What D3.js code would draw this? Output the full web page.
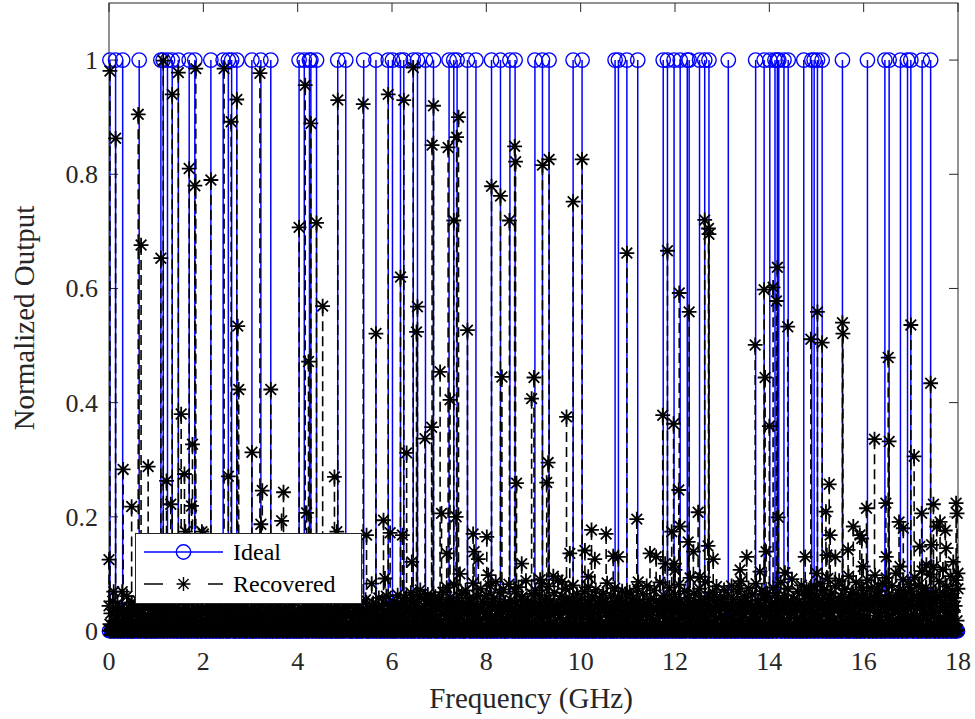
<!DOCTYPE html>
<html><head><meta charset="utf-8">
<script src="https://cdn.jsdelivr.net/npm/d3@7/dist/d3.min.js"></script>
<style>body{margin:0;background:#fff}svg{display:block}</style>
</head><body>
<svg id="chart" width="975" height="719"></svg>
<script>
// ---------------- DATA ----------------
const xTickValues = [0, 2, 4, 6, 8, 10, 12, 14, 16, 18];
const yTickValues = [0, 0.2, 0.4, 0.6, 0.8, 1];
const seriesNames = ["Ideal", "Recovered"];

// frequency grid of the spectrum (GHz)
const gridStart = 0, gridStep = 0.02, gridCount = 901;

// Ideal: frequencies (GHz) where the ideal output is 1 (0 elsewhere on the grid)
const idealFreqs = [
  0.02,0.14,0.29,0.64,1.10,1.15,1.24,1.34,1.47,1.70,1.82,2.16,2.42,2.53,2.60,2.71,3.03,3.22,3.43,
  4.03,4.14,4.25,4.28,4.40,4.85,5.02,5.40,5.66,5.92,6.01,
  6.18,6.25,6.45,6.54,6.71,6.88,7.21,7.31,7.38,7.60,7.78,8.11,8.30,8.50,8.61,9.03,9.19,9.33,
  9.84,10.03,10.73,10.80,10.98,11.21,11.75,11.84,11.98,
  12.11,12.26,12.30,12.52,12.63,12.72,13.13,13.71,13.89,14.01,14.12,14.17,14.20,14.31,14.40,
  14.73,14.90,14.95,15.02,15.12,15.55,16.08,16.45,16.54,16.78,16.93,17.00,17.24,17.42
];

// Recovered: clearly visible components [frequency GHz, normalized output]
const recoveredPeaks = [
  [0.00,0.125],[0.02,0.981],[0.14,0.863],[0.30,0.283],[0.48,0.218],[0.62,0.905],[0.68,0.676],[0.83,0.288],
  [1.10,0.653],[1.15,0.999],[1.22,0.263],[1.31,0.222],[1.34,0.940],[1.47,0.978],[1.53,0.380],[1.60,0.275],
  [1.62,0.174],[1.70,0.810],[1.75,0.219],[1.77,0.327],[1.82,0.780],[1.84,0.985],[1.97,0.174],[2.00,0.170],
  [2.16,0.790],[2.44,0.985],[2.53,0.271],[2.59,0.892],[2.71,0.931],[2.73,0.534],[2.75,0.423],[3.03,0.313],
  [3.20,0.977],[3.22,0.187],[3.25,0.246],[3.43,0.423],[3.66,0.193],[3.70,0.243],[4.03,0.707],[4.16,0.956],
  [4.19,0.207],[4.23,0.472],[4.28,0.889],[4.40,0.715],[4.53,0.569],[4.78,0.270],[4.83,0.174],[4.85,0.930],
  [5.39,0.923],[5.46,0.168],[5.57,0.083],[5.66,0.521],[5.82,0.194],[5.85,0.092],[5.92,0.940],[5.96,0.172],
  [6.18,0.620],[6.22,0.168],[6.25,0.930],[6.31,0.312],[6.42,0.121],[6.45,0.987],[6.52,0.524],[6.54,0.568],
  [6.70,0.337],[6.84,0.357],[6.85,0.851],[6.88,0.920],[7.02,0.454],[7.05,0.206],[7.16,0.136],[7.19,0.847],
  [7.23,0.405],[7.31,0.719],[7.36,0.200],[7.37,0.865],[7.41,0.900],[7.44,0.100],[7.60,0.527],[7.72,0.170],
  [7.74,0.139],[7.83,0.126],[8.01,0.165],[8.04,0.098],[8.11,0.779],[8.30,0.762],[8.33,0.445],[8.49,0.719],
  [8.60,0.849],[8.62,0.822],[8.64,0.259],[8.75,0.118],[8.96,0.407],[9.01,0.444],[9.14,0.090],[9.19,0.816],
  [9.28,0.260],[9.31,0.295],[9.33,0.826],[9.42,0.096],[9.60,0.086],[9.70,0.375],[9.77,0.136],[9.84,0.752],
  [10.03,0.826],[10.09,0.141],[10.16,0.095],[10.23,0.177],[10.30,0.126],[10.54,0.170],[10.69,0.131],
  [10.80,0.130],[10.98,0.662],[11.19,0.196],[11.22,0.086],[11.47,0.136],[11.60,0.130],[11.74,0.378],
  [11.79,0.118],[11.84,0.666],[11.93,0.174],[11.97,0.363],[11.99,0.118],[12.00,0.107],[12.08,0.247],
  [12.09,0.592],[12.11,0.183],[12.28,0.156],[12.30,0.559],[12.39,0.139],[12.49,0.208],[12.53,0.095],
  [12.63,0.720],[12.70,0.149],[12.71,0.705],[12.72,0.695],[12.81,0.126],[13.34,0.080],[13.38,0.107],
  [13.52,0.130],[13.70,0.501],[13.80,0.104],[13.89,0.598],[13.91,0.444],[13.93,0.139],[14.00,0.359],
  [14.08,0.602],[14.15,0.578],[14.17,0.637],[14.19,0.199],[14.33,0.102],[14.39,0.533],[14.76,0.130],
  [14.79,0.073],[14.88,0.511],[15.00,0.101],[15.02,0.559],[15.12,0.505],[15.20,0.209],[15.22,0.133],
  [15.27,0.257],[15.29,0.168],[15.40,0.130],[15.55,0.540],[15.56,0.521],[15.67,0.142],[15.78,0.183],
  [15.92,0.168],[15.96,0.162],[15.99,0.113],[16.06,0.215],[16.23,0.336],[16.31,0.078],[16.47,0.224],
  [16.48,0.130],[16.52,0.479],[16.54,0.332],[16.75,0.191],[16.77,0.113],[16.84,0.180],[17.00,0.536],
  [17.07,0.306],[17.19,0.148],[17.23,0.206],[17.33,0.116],[17.42,0.434],[17.44,0.151],[17.48,0.222],
  [17.55,0.183],[17.62,0.191],[17.73,0.176],[17.75,0.145],[17.90,0.121],[17.96,0.224],[17.98,0.206],[18.00,0.101]
];

// Recovered: residual level on each grid frequency, in thousandths (one row of 50 per GHz)
const recoveredFloor = [
 44,12,31,3,52,69,18,27,6,48,35,18,9,41,69,22,35,4,14,61,28,41,7,38,50,16,29,2,46,33,11,52,24,8,19,49,36,5,45,13,19,27,43,1,38,22,15,47,10,30,
 28,7,47,19,35,2,52,14,21,39,57,9,26,33,44,5,32,17,49,11,18,40,3,41,55,24,30,8,37,16,46,1,23,34,51,13,27,6,48,20,39,10,25,36,4,42,15,29,12,33,
 33,6,19,41,45,12,28,2,38,22,15,35,42,9,26,17,35,3,48,24,21,8,31,37,44,14,17,1,36,27,27,11,40,5,22,30,33,13,46,18,19,7,38,25,29,10,43,4,24,16,
 37,9,22,30,41,3,18,26,34,12,46,21,25,7,31,15,39,4,16,28,43,11,28,20,35,2,21,38,47,14,30,6,24,33,19,10,38,23,42,5,33,17,27,9,45,13,20,36,8,29,
 29,11,41,5,23,34,36,14,48,2,19,27,34,8,27,39,44,16,31,6,22,35,39,12,26,1,47,29,18,9,35,21,42,4,25,32,38,15,30,7,49,18,21,37,37,10,28,3,43,24,
 34,8,26,40,45,13,31,22,52,3,22,35,40,11,29,18,47,6,36,27,24,9,55,30,33,15,41,2,27,38,49,12,38,21,30,7,58,19,25,44,43,10,35,16,61,4,32,26,46,14,
 39,10,51,24,28,47,63,5,35,19,47,30,24,12,58,41,41,7,33,53,67,15,29,38,52,20,44,3,37,61,72,14,31,25,56,9,40,48,64,17,27,33,49,6,36,57,60,21,43,11,
 55,13,34,46,68,8,42,27,76,19,31,50,59,4,47,36,81,22,38,14,53,44,29,9,66,31,45,18,71,39,36,6,58,49,49,16,84,28,33,11,61,43,40,21,74,3,52,35,37,24,
 62,15,45,30,79,6,38,52,57,20,86,11,43,35,67,25,35,8,73,47,50,18,41,29,82,10,54,39,39,14,69,33,47,5,77,24,33,56,60,12,44,37,88,19,51,28,36,7,65,42,
 48,17,71,31,37,9,63,45,83,22,42,12,56,38,34,26,78,7,52,41,40,15,67,30,45,11,89,35,38,23,61,4,49,46,74,16,36,29,58,10,43,53,80,20,47,33,65,8,39,27,
 54,14,41,36,69,5,36,48,77,21,48,30,60,9,33,44,72,17,45,26,57,11,39,50,66,6,50,32,84,19,37,41,62,13,44,28,75,3,35,53,58,22,47,16,70,34,42,10,63,25,
 46,12,68,29,38,51,59,7,43,35,74,18,51,26,35,9,65,40,48,15,79,31,40,6,56,45,34,20,71,13,53,37,44,28,85,4,39,48,62,17,49,33,36,11,76,42,55,23,42,14,
 64,18,47,35,81,8,52,41,39,23,70,12,45,30,58,47,93,16,41,37,66,6,50,28,37,19,74,44,55,11,43,31,86,24,48,9,61,39,40,15,68,33,53,20,78,5,44,36,59,26,
 51,13,72,40,43,21,63,7,38,49,79,27,56,15,46,34,69,10,35,43,87,22,52,31,60,6,41,47,75,18,48,29,64,12,37,44,83,25,54,9,45,38,70,16,57,33,39,4,66,28,
 58,20,44,37,76,11,50,42,67,25,40,8,85,36,53,18,62,47,47,13,74,29,38,51,91,6,56,33,45,22,69,15,51,40,80,26,43,9,63,34,49,19,72,44,58,12,41,31,78,23,
 62,24,49,38,83,14,55,44,71,8,44,30,92,20,58,49,66,17,50,35,79,11,47,41,88,26,60,5,53,37,74,19,46,44,96,13,57,32,68,22,51,39,85,7,62,46,48,28,77,18,
 65,21,52,43,89,16,58,36,75,10,47,50,98,27,61,33,70,19,54,46,84,8,50,38,93,24,63,41,56,15,79,31,49,47,101,12,60,35,72,23,55,42,90,17,66,29,51,39,82,14,
 70,26,57,45,94,19,62,40,80,13,53,48,105,30,66,37,76,22,59,51,99,9,55,43,112,28,68,34,61,17,87,36,54,49,108,15,64,41,78,25,60,46,96,20,71,33,58,44,89,18,
 74
];

// Recovered: residual level halfway between grid frequencies (0.01 + 0.02 i GHz), in thousandths
const recoveredFloorMid = [
 1,0,2,1,3,0,1,2,0,1,3,1,0,2,1,0,3,1,2,0,1,2,0,3,1,0,2,1,1,3,0,2,1,0,1,2,3,0,1,2,0,1,3,1,0,2,1,0,2,1,
 0,2,1,3,0,1,2,0,1,3,1,0,2,1,2,0,1,3,0,1,2,1,0,2,3,1,0,1,2,0,3,1,2,0,1,1,0,2,3,1,0,2,1,0,1,3,2,0,1,2,
 2,1,0,1,3,2,0,1,2,0,1,3,1,0,2,1,3,0,2,1,0,1,2,3,0,1,2,0,1,3,1,2,0,1,0,3,2,1,0,2,1,3,0,1,2,0,1,2,3,0,
 1,3,0,2,1,0,2,1,3,0,1,2,0,3,1,2,0,1,1,3,0,2,1,0,2,1,3,0,1,2,0,1,3,2,0,1,2,1,0,3,1,0,2,1,3,0,1,2,0,1,
 3,0,1,2,0,1,3,2,0,1,2,0,1,3,1,0,2,1,3,0,2,1,0,1,3,2,0,1,2,1,0,3,1,2,0,1,0,2,3,1,0,1,2,0,3,1,2,0,1,2,
 0,1,3,1,2,0,1,0,2,3,1,2,0,1,3,0,2,1,0,2,1,3,1,0,2,0,1,3,2,1,0,2,1,0,3,1,2,1,0,2,3,0,1,2,1,0,3,2,0,1,
 2,0,1,3,0,2,1,1,3,0,2,1,0,3,2,1,0,1,2,3,0,1,2,0,1,3,2,0,1,0,2,3,1,0,1,2,1,3,0,2,1,0,2,1,3,0,1,2,0,3,
 1,2,3,0,1,0,2,1,3,2,0,1,1,3,0,2,1,0,3,1,2,0,1,2,3,0,1,0,2,1,3,1,0,2,1,3,0,2,1,0,2,3,1,0,1,2,0,3,1,2,
 0,3,1,2,0,1,3,0,2,1,1,0,3,2,1,0,2,1,3,0,1,2,0,3,1,2,1,0,2,3,0,1,2,1,0,3,1,2,0,1,3,0,2,1,2,0,1,3,0,1,
 2,1,0,3,1,2,0,1,3,0,2,1,2,0,1,3,1,0,2,1,3,2,0,1,0,2,3,1,2,0,1,3,0,1,2,1,0,3,2,1,0,1,2,3,0,2,1,0,1,3,
 1,0,2,1,3,0,2,1,0,2,3,1,0,1,2,0,3,1,2,1,0,2,3,0,1,2,0,1,3,2,1,0,2,1,0,3,1,2,0,1,2,3,0,1,2,0,1,3,1,0,
 3,1,0,2,1,3,0,2,1,0,1,2,3,0,2,1,0,1,3,2,0,1,2,0,3,1,2,1,0,3,1,0,2,1,3,0,2,1,1,0,3,2,0,1,2,1,3,0,2,1,
 0,2,3,1,0,1,2,0,3,1,2,0,1,3,1,0,2,3,1,0,2,1,0,3,2,1,0,2,1,3,0,1,2,0,3,1,2,0,1,3,2,0,1,2,0,3,1,0,2,1,
 2,1,0,3,2,0,1,3,1,0,2,1,3,0,1,2,0,3,1,2,1,0,3,2,0,1,2,1,0,3,1,2,0,1,3,0,2,1,2,0,3,1,0,2,1,3,0,2,1,0,
 1,3,2,0,1,2,4,0,1,3,2,1,0,2,3,1,0,4,2,1,0,3,1,2,0,1,3,2,0,4,1,2,0,3,1,0,2,3,1,0,4,2,1,0,3,1,2,0,1,3,
 2,0,1,4,2,1,0,3,2,1,0,2,4,1,0,3,2,1,0,2,1,4,0,3,1,2,0,1,3,2,4,0,1,2,0,3,1,4,2,0,1,3,0,2,1,4,0,1,3,2,
 0,4,2,1,3,0,2,1,4,0,3,1,2,0,4,1,3,2,0,1,4,2,0,3,1,2,4,0,1,3,2,0,4,1,2,3,0,1,4,2,0,3,1,2,4,0,1,3,2,1,
 3,1,0,4,2,1,3,0,2,4,1,0,3,2,1,4,0,2,3,1,0,4,2,1,3,0,2,4,1,0,3,2,1,4,0,2,3,1,0,4,2,1,3,0,4,2,1,0,3,2
];

// ---------------- CHART ----------------
const svg = d3.select("#chart");
const FONT = "'Liberation Serif','Times New Roman',serif";
const AX = "#262626";
const BLUE = "#0000ff";
const x = d3.scaleLinear().domain([0, 18]).range([109, 958]);
const y = d3.scaleLinear().domain([0, 1.1]).range([631, 3]);
const [x0, x1] = x.range(), [yb, yt] = y.range();

const gridFreqs = d3.range(gridCount).map(i => gridStart + i * gridStep);

// axes box (drawn below data)
const axG = svg.append("g");
axG.append("rect").attr("x", x0).attr("y", yt).attr("width", x1 - x0).attr("height", yb - yt)
  .attr("fill", "none").attr("stroke", AX).attr("stroke-width", 1);
const TL = 9;
xTickValues.forEach(t => {
  axG.append("line").attr("x1", x(t)).attr("x2", x(t)).attr("y1", yb).attr("y2", yb - TL).attr("stroke", AX);
  axG.append("line").attr("x1", x(t)).attr("x2", x(t)).attr("y1", yt).attr("y2", yt + TL).attr("stroke", AX);
});
yTickValues.forEach(t => {
  axG.append("line").attr("x1", x0).attr("x2", x0 + TL).attr("y1", y(t)).attr("y2", y(t)).attr("stroke", AX);
  axG.append("line").attr("x1", x1).attr("x2", x1 - TL).attr("y1", y(t)).attr("y2", y(t)).attr("stroke", AX);
});

const starPath = r => {
  const d = r * 0.72;
  return `M${-r},0L${r},0M0,${-r}L0,${r}M${-d},${-d}L${d},${d}M${-d},${d}L${d},${-d}`;
};
const R_CIRC = 7.2, R_CIRC0 = 6.7, R_STAR = 7.4;

// Ideal series
const idealG = svg.append("g");
const idealData = gridFreqs.filter(f => !idealFreqs.some(p => Math.abs(p - f) < 0.005)).map(f => [f, 0])
  .concat(idealFreqs.map(f => [f, 1])).sort((a, b) => a[0] - b[0]);
idealG.selectAll("line").data(idealData.filter(d => d[1] > 0)).join("line")
  .attr("x1", d => x(d[0])).attr("x2", d => x(d[0])).attr("y1", y(0)).attr("y2", d => y(d[1]))
  .attr("stroke", BLUE).attr("stroke-width", 1.5);
idealG.selectAll("circle").data(idealData).join("circle")
  .attr("cx", d => x(d[0])).attr("cy", d => y(d[1])).attr("r", d => d[1] > 0 ? R_CIRC : R_CIRC0)
  .attr("fill", "none").attr("stroke", BLUE).attr("stroke-width", 1.4);

// Recovered series
const recData = gridFreqs.map((f, i) => [f, recoveredFloor[i] / 1000])
  .concat(recoveredFloorMid.map((v, i) => [gridStart + gridStep / 2 + i * gridStep, v / 1000]))
  .concat(recoveredPeaks)
  .sort((a, b) => a[0] - b[0]);
const recG = svg.append("g");
recG.selectAll("line").data(recData).join("line")
  .attr("x1", d => x(d[0])).attr("x2", d => x(d[0])).attr("y1", d => y(d[1])).attr("y2", y(0))
  .attr("stroke", "#000").attr("stroke-width", 1.6).attr("stroke-dasharray", "10,5");
recG.selectAll("path").data(recData).join("path")
  .attr("transform", d => `translate(${x(d[0])},${y(d[1])})`).attr("d", starPath(R_STAR))
  .attr("fill", "none").attr("stroke", "#000").attr("stroke-width", 1.8);

// tick labels
const tl = svg.append("g").attr("font-family", FONT).attr("font-size", 26).attr("fill", AX);
xTickValues.forEach(t => tl.append("text").attr("x", x(t)).attr("y", 670).attr("text-anchor", "middle").text(t));
yTickValues.forEach(t => tl.append("text").attr("x", 98).attr("y", y(t) + 9).attr("text-anchor", "end").text(t));

// axis labels
svg.append("text").attr("x", 531).attr("y", 708).attr("text-anchor", "middle")
  .attr("font-family", FONT).attr("font-size", 29).attr("fill", AX).text("Frequency (GHz)");
svg.append("text").attr("transform", "translate(34,318) rotate(-90)").attr("text-anchor", "middle")
  .attr("font-family", FONT).attr("font-size", 29).attr("fill", AX).text("Normalized Output");

// legend
const lg = svg.append("g");
lg.append("rect").attr("x", 135.5).attr("y", 533.5).attr("width", 226).attr("height", 70)
  .attr("fill", "#fff").attr("stroke", AX).attr("stroke-width", 1);
lg.append("line").attr("x1", 144).attr("x2", 223).attr("y1", 552).attr("y2", 552).attr("stroke", BLUE).attr("stroke-width", 1.5);
lg.append("circle").attr("cx", 183.5).attr("cy", 552).attr("r", R_CIRC).attr("fill", "none").attr("stroke", BLUE).attr("stroke-width", 1.4);
[[144, 163], [208, 223]].forEach(s => lg.append("line").attr("x1", s[0]).attr("x2", s[1]).attr("y1", 584).attr("y2", 584)
  .attr("stroke", "#000").attr("stroke-width", 1.5));
lg.append("path").attr("transform", "translate(183.5,584)").attr("d", starPath(7))
  .attr("fill", "none").attr("stroke", "#000").attr("stroke-width", 1.4);
seriesNames.forEach((n, i) => lg.append("text").attr("x", 233).attr("y", 552 + i * 32 + 8)
  .attr("font-family", FONT).attr("font-size", 24).attr("fill", "#000").text(n));
</script>
</body></html>
